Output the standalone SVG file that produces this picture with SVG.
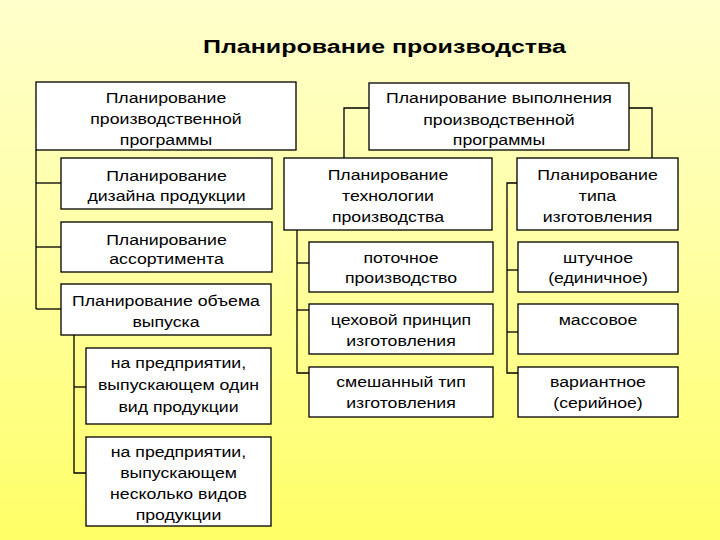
<svg xmlns="http://www.w3.org/2000/svg" width="720" height="540" viewBox="0 0 720 540">
<defs>
<linearGradient id="bg" x1="0" y1="0" x2="0" y2="1">
<stop offset="0" stop-color="#FFFFCC"/>
<stop offset="0.45" stop-color="#FFFFA6"/>
<stop offset="1" stop-color="#FFFF66"/>
</linearGradient>
<style>
.box{fill:#FFFFFF;stroke:#000000;stroke-width:1.3}
.t{font-family:"Liberation Sans",Arial,sans-serif;font-size:15px;fill:#000000;text-anchor:middle}
.title{font-family:"Liberation Sans",Arial,sans-serif;font-size:18px;font-weight:bold;fill:#000000}
.c{fill:none;stroke:#000000;stroke-width:1.3}
</style>
</defs>
<rect x="0" y="0" width="720" height="540" fill="url(#bg)"/>
<text class="title" x="203" y="53" textLength="363" lengthAdjust="spacingAndGlyphs">Планирование производства</text>

<g id="connectors">
<polyline class="c" points="36,150 36,309"/>
<line class="c" x1="36" y1="183" x2="61" y2="183"/>
<line class="c" x1="36" y1="247" x2="61" y2="247"/>
<line class="c" x1="36" y1="309" x2="61" y2="309"/>
<polyline class="c" points="74,335 74,473 86,473"/>
<line class="c" x1="74" y1="387" x2="86" y2="387"/>
<polyline class="c" points="369,108 344,108 344,158"/>
<polyline class="c" points="629,108 652,108 652,158"/>
<polyline class="c" points="297,230 297,373 309,373"/>
<line class="c" x1="297" y1="263" x2="309" y2="263"/>
<line class="c" x1="297" y1="310" x2="309" y2="310"/>
<polyline class="c" points="517,183 507,183 507,373 518,373"/>
<line class="c" x1="507" y1="270" x2="518" y2="270"/>
<line class="c" x1="507" y1="332" x2="518" y2="332"/>
</g>

<g id="n-prog">
<rect class="box" x="36" y="82" width="260" height="68"/>
<text class="t" transform="translate(166,0) scale(1.18,1)"><tspan x="0" y="103">Планирование</tspan><tspan x="0" y="124">производственной</tspan><tspan x="0" y="145">программы</tspan></text>
</g>
<g id="n-design">
<rect class="box" x="61" y="158" width="211" height="51"/>
<text class="t" transform="translate(166.5,0) scale(1.18,1)"><tspan x="0" y="181">Планирование</tspan><tspan x="0" y="201">дизайна продукции</tspan></text>
</g>
<g id="n-assort">
<rect class="box" x="61" y="222" width="211" height="50"/>
<text class="t" transform="translate(166.5,0) scale(1.18,1)"><tspan x="0" y="245">Планирование</tspan><tspan x="0" y="264">ассортимента</tspan></text>
</g>
<g id="n-volume">
<rect class="box" x="61" y="284" width="210" height="51"/>
<text class="t" transform="translate(166,0) scale(1.18,1)"><tspan x="0" y="306">Планирование объема</tspan><tspan x="0" y="327">выпуска</tspan></text>
</g>
<g id="n-one">
<rect class="box" x="86" y="348" width="185" height="76"/>
<text class="t" transform="translate(178.5,0) scale(1.18,1)"><tspan x="0" y="368">на предприятии,</tspan><tspan x="0" y="390">выпускающем один</tspan><tspan x="0" y="412">вид продукции</tspan></text>
</g>
<g id="n-several">
<rect class="box" x="86" y="437" width="185" height="89"/>
<text class="t" transform="translate(178.5,0) scale(1.18,1)"><tspan x="0" y="457">на предприятии,</tspan><tspan x="0" y="478">выпускающем</tspan><tspan x="0" y="499">несколько видов</tspan><tspan x="0" y="520">продукции</tspan></text>
</g>
<g id="n-exec">
<rect class="box" x="369" y="83" width="260" height="67"/>
<text class="t" transform="translate(499,0) scale(1.18,1)"><tspan x="0" y="103">Планирование выполнения</tspan><tspan x="0" y="125">производственной</tspan><tspan x="0" y="145">программы</tspan></text>
</g>
<g id="n-tech">
<rect class="box" x="284" y="158" width="208" height="72"/>
<text class="t" transform="translate(388,0) scale(1.18,1)"><tspan x="0" y="180">Планирование</tspan><tspan x="0" y="201">технологии</tspan><tspan x="0" y="222">производства</tspan></text>
</g>
<g id="n-type">
<rect class="box" x="517" y="158" width="161" height="72"/>
<text class="t" transform="translate(597.5,0) scale(1.18,1)"><tspan x="0" y="180">Планирование</tspan><tspan x="0" y="201">типа</tspan><tspan x="0" y="222">изготовления</tspan></text>
</g>
<g id="n-flow">
<rect class="box" x="309" y="242" width="184" height="50"/>
<text class="t" transform="translate(401,0) scale(1.18,1)"><tspan x="0" y="263">поточное</tspan><tspan x="0" y="283">производство</tspan></text>
</g>
<g id="n-shop">
<rect class="box" x="309" y="304" width="184" height="50"/>
<text class="t" transform="translate(401,0) scale(1.18,1)"><tspan x="0" y="325">цеховой принцип</tspan><tspan x="0" y="346">изготовления</tspan></text>
</g>
<g id="n-mixed">
<rect class="box" x="309" y="367" width="184" height="50"/>
<text class="t" transform="translate(401,0) scale(1.18,1)"><tspan x="0" y="387">смешанный тип</tspan><tspan x="0" y="408">изготовления</tspan></text>
</g>
<g id="n-piece">
<rect class="box" x="518" y="242" width="160" height="50"/>
<text class="t" transform="translate(598,0) scale(1.18,1)"><tspan x="0" y="263">штучное</tspan><tspan x="0" y="283">(единичное)</tspan></text>
</g>
<g id="n-mass">
<rect class="box" x="518" y="304" width="160" height="50"/>
<text class="t" transform="translate(598,0) scale(1.18,1)"><tspan x="0" y="325">массовое</tspan></text>
</g>
<g id="n-serial">
<rect class="box" x="518" y="367" width="160" height="50"/>
<text class="t" transform="translate(598,0) scale(1.18,1)"><tspan x="0" y="387">вариантное</tspan><tspan x="0" y="408">(серийное)</tspan></text>
</g>
</svg>
